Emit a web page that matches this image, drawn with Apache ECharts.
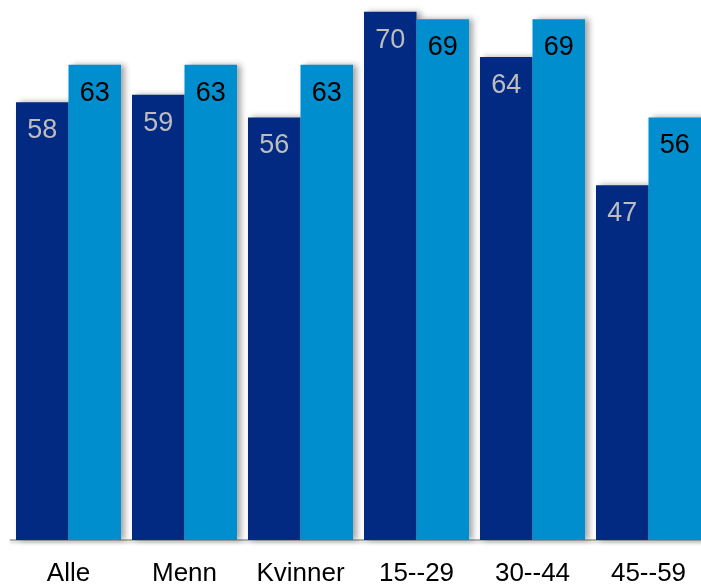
<!DOCTYPE html>
<html>
<head>
<meta charset="utf-8">
<script src="https://cdn.jsdelivr.net/npm/echarts@6/dist/echarts.min.js"></script>
<style>
  html, body { margin: 0; padding: 0; background: #ffffff; }
  #chart { width: 701px; height: 586px; }
</style>
</head>
<body>
<div id="chart"></div>
<script>
// Group labels along the x axis
const categories = ['Alle', 'Menn', 'Kvinner', '15--29', '30--44', '45--59'];
// First (dark) and second (light) series
const seriesDark = [58, 59, 56, 70, 64, 47];
const seriesLight = [63, 63, 63, 69, 69, 56];

const chart = echarts.init(document.getElementById('chart'));

const barShadow = {
  shadowColor: 'rgba(0,0,0,0.35)',
  shadowBlur: 6,
  shadowOffsetX: 4,
  shadowOffsetY: 0
};

const labelFont = 'Liberation Sans, Arial, sans-serif';

chart.setOption({
  animation: false,
  backgroundColor: '#ffffff',
  grid: {
    left: 10.5, width: 696, top: 2, bottom: 46,
    containLabel: false,
    outerBoundsMode: 'none'
  },
  xAxis: {
    type: 'category',
    data: categories,
    axisLine: {
      show: true,
      lineStyle: { color: '#9a9a9a', width: 1.5, shadowColor: 'rgba(0,0,0,0.25)', shadowBlur: 3, shadowOffsetY: 2 }
    },
    axisTick: { show: false },
    axisLabel: {
      color: '#000000',
      fontFamily: labelFont,
      fontSize: 26,
      margin: 21
    }
  },
  yAxis: {
    type: 'value',
    min: 0,
    max: 71.3,
    show: false,
    splitLine: { show: false }
  },
  series: [
    {
      type: 'bar',
      data: seriesDark,
      barWidth: 52.5,
      barGap: '0%',
      itemStyle: Object.assign({ color: '#032a83' }, barShadow),
      label: {
        show: true,
        position: 'insideTop',
        distance: 15,
        color: '#bdbdbd',
        fontFamily: labelFont,
        fontSize: 27
      }
    },
    {
      type: 'bar',
      data: seriesLight,
      barWidth: 52.5,
      barGap: '0%',
      itemStyle: Object.assign({ color: '#008ecf' }, barShadow),
      label: {
        show: true,
        position: 'insideTop',
        distance: 15,
        color: '#000000',
        fontFamily: labelFont,
        fontSize: 27
      }
    }
  ]
});
</script>
</body>
</html>
